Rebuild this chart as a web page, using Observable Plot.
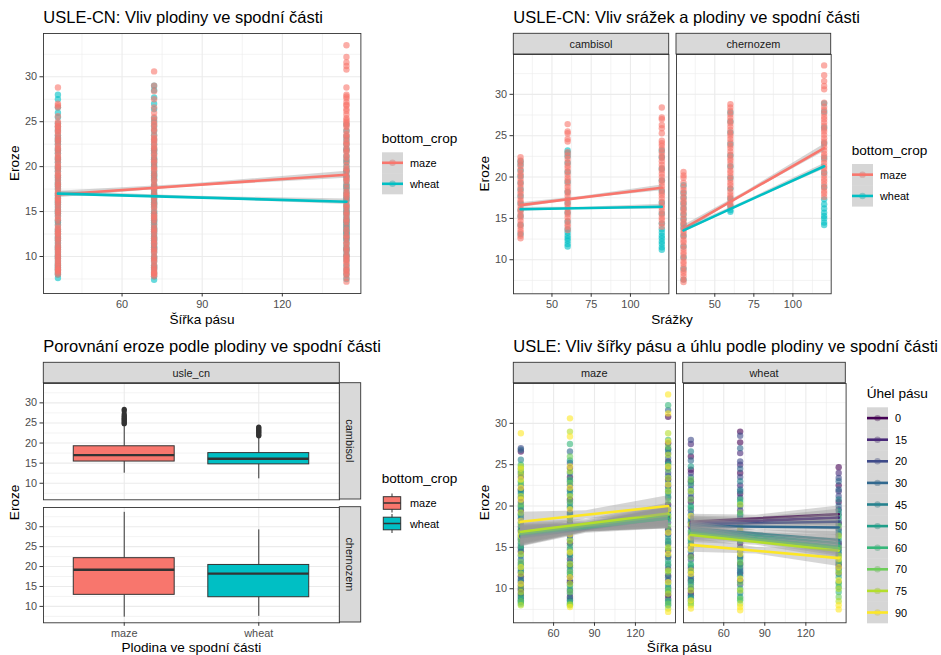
<!DOCTYPE html>
<html>
<head>
<meta charset="utf-8">
<script src="https://cdn.jsdelivr.net/npm/d3@7"></script>
<script src="https://cdn.jsdelivr.net/npm/@observablehq/plot@0.6"></script>
<style>
  html, body { margin: 0; padding: 0; background: #fff; }
  #page { position: relative; width: 941px; height: 655px; overflow: hidden; background: #fff; }
</style>
</head>
<body>
<div id="page"></div>
<script>
const FONT = '"Liberation Sans", Arial, Helvetica, sans-serif';

// ---- categories ----
const cropNames = ["maze", "wheat"];
const cropColors = ["#F8766D", "#00BFC4"];
const soilNames = ["cambisol", "chernozem"];
const angleLevels = [0, 15, 20, 30, 45, 50, 60, 70, 75, 90];
const angleColors = ["#440154", "#482878", "#3E4A89", "#31688E", "#26828E", "#1F9E89", "#35B779", "#6DCD59", "#B4DE2C", "#FDE725"];
const widthLevels = [36, 72, 144];
const rainLevels = [30, 60, 120];

// ---- axis ticks ----
const erozeDomain = [5.885, 34.815];
const erozeTicks = [10, 15, 20, 25, 30];
const erozeMinor = [7.5, 12.5, 17.5, 22.5, 27.5, 32.5];
const widthDomain = [30.6, 149.4];
const widthTicks = [60, 90, 120];
const widthMinor = [45, 75, 105, 135];
const rainDomain = [25.5, 124.5];
const rainTicks = [50, 75, 100];
const rainMinor = [37.5, 62.5, 87.5, 112.5];

// ---- erosion by strip width; one inner list per slope angle (angleLevels order) ----
const maze36 = [
  [9.4, 10.0, 11.5, 14.5, 17.0, 19.5, 22.0, 26.6],
  [9.0, 10.4, 12.0, 15.0, 17.5, 20.5, 23.5],
  [9.8, 11.0, 13.0, 16.0, 18.5, 21.0, 24.0, 27.0],
  [8.6, 10.8, 13.5, 15.5, 18.0, 20.0, 22.5, 26.8],
  [8.4, 11.2, 12.5, 14.0, 16.5, 19.0, 21.5, 25.6],
  [8.8, 12.2, 14.8, 16.2, 18.8, 21.8, 24.5],
  [8.2, 9.2, 12.8, 15.2, 17.2, 19.8, 23.0, 25.0],
  [8.5, 10.2, 13.2, 15.8, 17.8, 20.2, 22.8, 24.2],
  [8.0, 9.6, 11.8, 14.2, 16.8, 19.2, 21.2, 23.8, 24.8],
  [10.6, 12.6, 16.4, 18.2, 20.8, 22.2, 23.2, 24.5, 28.8]
];
const wheat36 = [
  [9.5, 11.0, 14.0, 17.5, 20.5, 23.0, 24.4, 26.0],
  [10.0, 12.5, 15.0, 18.0, 21.0, 24.0, 27.5],
  [9.2, 11.5, 13.5, 16.5, 19.5, 22.5, 28.0],
  [10.5, 12.0, 15.5, 18.5, 21.5, 23.5, 25.5],
  [8.8, 11.2, 14.5, 17.0, 19.0, 22.0, 26.6],
  [9.0, 12.8, 16.0, 18.2, 20.0, 24.8],
  [8.5, 10.8, 13.0, 15.8, 19.8, 22.8],
  [8.2, 10.2, 13.8, 16.8, 20.8, 23.2],
  [8.0, 9.8, 12.2, 15.2, 17.8, 21.8],
  [7.6, 8.6, 11.8, 14.8, 16.2, 18.8]
];
const maze72 = [
  [9.0, 10.8, 12.8, 15.5, 18.0, 20.8, 23.5],
  [9.8, 11.5, 13.6, 16.4, 19.2, 22.0, 24.6],
  [8.6, 11.0, 14.2, 17.0, 19.8, 22.5, 25.2],
  [9.4, 12.2, 14.8, 17.6, 20.4, 23.0, 26.6],
  [8.8, 10.4, 13.2, 16.0, 18.6, 21.4, 24.0],
  [8.2, 11.8, 14.0, 16.8, 19.0, 21.8, 25.5],
  [8.4, 10.0, 12.6, 15.2, 17.8, 20.0, 23.2, 27.5],
  [8.0, 9.6, 12.0, 14.6, 17.4, 20.6, 22.8, 26.0],
  [8.1, 10.6, 13.0, 15.8, 18.4, 21.2, 24.2, 29.0],
  [7.8, 11.4, 14.4, 16.6, 19.6, 22.2, 24.8, 28.4, 30.6]
];
const wheat72 = [
  [11.0, 13.0, 15.5, 18.5, 21.5, 24.0, 27.7, 29.0],
  [11.8, 13.8, 16.5, 19.5, 22.5, 25.0, 26.4],
  [10.5, 12.5, 15.0, 18.0, 21.0, 23.5, 25.4, 28.5],
  [12.0, 14.5, 17.0, 20.0, 22.0, 24.5, 27.0],
  [9.5, 12.2, 14.0, 16.8, 19.0, 21.8, 23.0],
  [9.0, 11.5, 13.5, 16.0, 18.8, 20.5],
  [8.6, 10.0, 12.8, 15.8, 17.5, 20.8],
  [8.8, 10.8, 13.2, 16.2, 19.2],
  [8.2, 9.8, 14.8, 17.8, 20.2],
  [7.4, 7.8, 11.2, 14.2, 17.2]
];
const maze144 = [
  [9.2, 11.6, 14.6, 17.2, 20.2, 23.2, 25.4, 27.6, 30.8],
  [8.8, 11.0, 13.8, 16.6, 19.4, 22.4, 24.6, 26.9],
  [9.6, 12.4, 15.4, 18.0, 21.0, 24.0, 26.4],
  [10.2, 12.8, 15.8, 18.6, 21.6, 23.6, 25.8, 31.6],
  [8.4, 11.4, 14.0, 17.0, 19.8, 22.8, 25.2],
  [8.0, 10.6, 13.4, 16.2, 19.0, 22.0, 26.8],
  [8.6, 10.0, 13.0, 15.6, 18.4, 21.2, 25.0, 28.0, 32.2],
  [8.2, 9.8, 12.0, 14.8, 17.6, 20.6, 24.4, 27.2],
  [7.6, 9.4, 12.2, 15.0, 18.8, 21.8, 23.4, 26.2, 28.8],
  [7.2, 10.8, 14.2, 16.8, 19.6, 22.6, 24.8, 27.8, 31.2, 33.5]
];
const wheat144 = [
  [13.0, 15.5, 18.0, 20.5, 22.5, 24.7],
  [12.5, 14.8, 17.2, 19.6, 21.8, 24.0],
  [11.8, 14.2, 16.6, 19.0, 21.2, 23.4],
  [12.8, 15.2, 17.8, 20.0, 22.0, 23.0],
  [10.8, 13.4, 15.8, 18.4, 20.8],
  [10.2, 12.2, 14.5, 16.9, 19.4],
  [9.6, 11.4, 13.8, 16.2, 18.8],
  [9.0, 10.6, 13.2, 15.0, 17.6],
  [8.5, 10.0, 12.0, 14.0, 16.4],
  [7.5, 8.0, 11.0, 12.6, 13.6]
];

// ---- erosion by rainfall, per soil and crop ----
const cambMaze30 = [12.6, 12.9, 13.3, 13.6, 14.0, 14.3, 14.7, 15.1, 15.4, 15.8, 16.1, 16.5, 16.9, 17.2, 17.6, 18.0, 18.3, 18.7, 19.1, 19.4, 19.8, 20.2, 20.5, 20.9, 21.3, 21.7, 22.0, 22.4];
const cambWheat30 = [13.1, 14.2, 15.3, 16.0, 16.8, 17.7, 18.5, 19.3, 20.1, 20.8, 21.5, 21.9];
const cambMaze60 = [13.6, 14.0, 14.3, 14.7, 15.1, 15.5, 15.8, 16.2, 16.6, 16.9, 17.3, 17.7, 18.1, 18.4, 18.8, 19.2, 19.6, 19.9, 20.3, 20.7, 21.1, 21.4, 21.8, 22.2, 22.6, 23.0, 24.3, 24.6, 25.3, 25.5, 26.4];
const cambWheat60 = [11.6, 11.9, 12.3, 12.6, 12.9, 13.3, 13.7, 14.6, 15.7, 16.9, 18.2, 19.4, 20.6, 21.7, 22.5, 22.9, 23.2];
const cambMaze120 = [14.0, 14.4, 14.8, 15.1, 15.5, 15.9, 16.3, 16.6, 17.0, 17.4, 17.8, 18.1, 18.5, 18.9, 19.3, 19.6, 20.0, 20.4, 20.8, 21.1, 21.5, 21.9, 22.3, 22.6, 23.0, 23.4, 23.8, 24.1, 24.4, 25.3, 25.9, 26.3, 27.0, 27.2, 28.4];
const cambWheat120 = [11.2, 11.5, 11.9, 12.2, 12.6, 12.9, 13.3, 13.7, 14.4, 15.6, 16.9, 18.3, 19.6, 21.0, 22.4, 23.2];
const cherMaze30 = [7.3, 7.6, 8.0, 8.4, 8.7, 9.1, 9.5, 9.8, 10.2, 10.6, 10.9, 11.3, 11.7, 12.1, 12.4, 12.8, 13.2, 13.5, 13.9, 14.3, 14.6, 15.0, 15.4, 15.8, 16.1, 16.5, 16.9, 17.2, 17.6, 18.0, 18.4, 18.8, 19.3, 19.9, 20.2, 20.6];
const cherWheat30 = [7.6, 8.9, 10.3, 11.6, 12.9, 13.8, 14.3, 14.9, 15.5, 16.2, 16.8, 17.5, 18.1, 19.0];
const cherMaze60 = [16.4, 16.7, 17.1, 17.5, 17.8, 18.2, 18.6, 19.0, 19.3, 19.7, 20.1, 20.5, 20.8, 21.2, 21.6, 22.0, 22.3, 22.7, 23.1, 23.5, 23.8, 24.2, 24.6, 25.0, 25.3, 25.7, 26.1, 26.5, 26.8, 27.2, 27.6, 28.0, 28.4, 28.8];
const cherWheat60 = [15.8, 16.0, 16.5, 17.4, 18.6, 19.9, 21.3, 22.6, 24.0, 25.4, 26.7, 27.8];
const cherMaze120 = [17.6, 18.0, 18.3, 18.7, 19.1, 19.5, 19.8, 20.2, 20.6, 21.0, 21.3, 21.7, 22.1, 22.5, 22.8, 23.2, 23.6, 24.0, 24.3, 24.7, 25.1, 25.5, 25.8, 26.2, 26.6, 27.0, 27.3, 27.7, 28.1, 28.5, 29.0, 30.6, 31.0, 31.6, 32.3, 33.5];
const cherWheat120 = [14.2, 14.5, 15.0, 15.3, 15.7, 16.2, 16.7, 17.3, 18.8, 20.5, 22.3, 24.1, 26.0, 27.9, 28.9];

// ---- boxplot statistics (cambisol maze, cambisol wheat, chernozem maze, chernozem wheat) ----
const boxSoil = ["cambisol", "cambisol", "chernozem", "chernozem"];
const boxCrop = ["maze", "wheat", "maze", "wheat"];
const boxLower = [12.5, 11.1, 7.3, 7.5];
const boxQ1 = [15.4, 14.7, 12.9, 12.3];
const boxMedian = [17.0, 16.1, 19.2, 18.2];
const boxQ3 = [19.2, 17.5, 22.1, 20.4];
const boxUpper = [24.5, 21.6, 33.6, 29.2];
const outliersCambMaze = [24.8, 25.0, 25.3, 25.6, 25.9, 26.2, 26.5, 26.8, 27.2, 28.0, 28.4];
const outliersCambWheat = [21.8, 22.0, 22.3, 22.6, 22.9, 23.2, 23.5, 23.8, 24.0];

// ---- linear smooths: fitted values at the ends of the x range, band half-widths at start / mean x / end ----
const fitWidthMaze = [16.9, 19.1];
const fitWidthWheat = [17.0, 16.1];
const seWidthMaze = [0.35, 0.15, 0.4];
const seWidthWheat = [0.25, 0.12, 0.3];
const fitRainCambMaze = [16.6, 18.7];
const fitRainCambWheat = [16.1, 16.4];
const fitRainCherMaze = [13.75, 23.5];
const fitRainCherWheat = [13.55, 21.3];
const seRainCambMaze = [0.3, 0.15, 0.35];
const seRainCambWheat = [0.25, 0.12, 0.3];
const seRainCherMaze = [0.4, 0.18, 0.45];
const seRainCherWheat = [0.3, 0.14, 0.35];
const fitAngleMaze36 = [16.3, 16.4, 16.2, 16.5, 16.3, 16.5, 16.6, 16.7, 16.9, 18.1];
const fitAngleMaze144 = [18.7, 18.6, 18.5, 18.8, 18.6, 18.5, 18.5, 18.9, 19.1, 20.0];
const fitAngleWheat36 = [18.1, 17.9, 17.8, 17.6, 17.3, 17.1, 16.9, 16.7, 16.5, 15.3];
const fitAngleWheat144 = [19.0, 18.6, 18.1, 17.4, 15.9, 15.5, 15.1, 14.9, 14.6, 13.7];
const seAngleMaze = [1.15, 0.5, 1.25];
const seAngleWheat = [0.9, 0.4, 1.0];

// ---- build tables ----
const widthSets = [
  {crop: "maze", width: 36, values: maze36}, {crop: "maze", width: 72, values: maze72}, {crop: "maze", width: 144, values: maze144},
  {crop: "wheat", width: 36, values: wheat36}, {crop: "wheat", width: 72, values: wheat72}, {crop: "wheat", width: 144, values: wheat144}
];
const widthRows = widthSets.flatMap(s => s.values.flatMap((vals, i) =>
  vals.map(v => ({crop: s.crop, width: s.width, angle: angleLevels[i], eroze: v}))));

const rainSets = [
  {soil: "cambisol", crop: "wheat", rain: 30, values: cambWheat30},
  {soil: "cambisol", crop: "wheat", rain: 60, values: cambWheat60},
  {soil: "cambisol", crop: "wheat", rain: 120, values: cambWheat120},
  {soil: "cambisol", crop: "maze", rain: 30, values: cambMaze30},
  {soil: "cambisol", crop: "maze", rain: 60, values: cambMaze60},
  {soil: "cambisol", crop: "maze", rain: 120, values: cambMaze120},
  {soil: "chernozem", crop: "wheat", rain: 30, values: cherWheat30},
  {soil: "chernozem", crop: "wheat", rain: 60, values: cherWheat60},
  {soil: "chernozem", crop: "wheat", rain: 120, values: cherWheat120},
  {soil: "chernozem", crop: "maze", rain: 30, values: cherMaze30},
  {soil: "chernozem", crop: "maze", rain: 60, values: cherMaze60},
  {soil: "chernozem", crop: "maze", rain: 120, values: cherMaze120}
];
const rainRows = rainSets.flatMap(s => s.values.map(v => ({soil: s.soil, crop: s.crop, rain: s.rain, eroze: v})));

const boxRows = boxSoil.map((soil, i) => ({
  soil, crop: boxCrop[i], pos: cropNames.indexOf(boxCrop[i]) + 1,
  lower: boxLower[i], q1: boxQ1[i], median: boxMedian[i], q3: boxQ3[i], upper: boxUpper[i]
}));
const outlierRows = [
  ...outliersCambMaze.map(v => ({soil: "cambisol", crop: "maze", pos: 1, eroze: v})),
  ...outliersCambWheat.map(v => ({soil: "cambisol", crop: "wheat", pos: 2, eroze: v}))
];

// smooth line + confidence band rows at x start, mean x and x end
function smoothRows(xs, xMean, fit, se) {
  const [xa, xb] = xs, [ya, yb] = fit;
  const ym = ya + (yb - ya) * (xMean - xa) / (xb - xa);
  return [[xa, ya, se[0]], [xMean, ym, se[1]], [xb, yb, se[2]]]
    .map(([x, y, s]) => ({x, y, lo: y - s, hi: y + s}));
}
const widthMean = d3.mean(widthLevels);
const rainMean = d3.mean(rainLevels);
const widthEnds = [widthLevels[0], widthLevels[2]];
const rainEnds = [rainLevels[0], rainLevels[2]];

function smoothMarks(rows, color) {
  return [
    Plot.areaY(rows, {x: "x", y1: "lo", y2: "hi", fill: "#999999", fillOpacity: 0.4}),
    Plot.line(rows.filter((d, i) => i !== 1), {x: "x", y: "y", stroke: color, strokeWidth: 2.6})
  ];
}

// ---- layout helpers ----
const page = document.getElementById("page");

function addPanel(o) {
  const mL = o.yAxis ? 42 : 1, mR = 1, mT = 1, mB = o.xAxis ? 24 : 1;
  const w = o.x1 - o.x0, h = o.y1 - o.y0;
  const axisStyle = {tickSize: 3.5, tickPadding: 3, label: null, stroke: "#333333", fill: "#4D4D4D"};
  const marks = [
    o.xMinor ? Plot.ruleX(o.xMinor, {stroke: "#EBEBEB", strokeWidth: 0.6}) : null,
    Plot.ruleY(erozeMinor, {stroke: "#EBEBEB", strokeWidth: 0.6}),
    Plot.ruleX(o.xTicks, {stroke: "#EBEBEB", strokeWidth: 1.1}),
    Plot.ruleY(erozeTicks, {stroke: "#EBEBEB", strokeWidth: 1.1}),
    ...o.marks,
    Plot.frame({stroke: "#333333", strokeWidth: 0.9}),
    o.xAxis ? Plot.axisX(o.xTicks, o.xFormat ? {...axisStyle, tickFormat: o.xFormat} : axisStyle) : null,
    o.yAxis ? Plot.axisY(erozeTicks, axisStyle) : null
  ].filter(Boolean);
  const opts = {
    width: w + mL + mR, height: h + mT + mB,
    marginLeft: mL, marginRight: mR, marginTop: mT, marginBottom: mB,
    x: {type: "linear", domain: o.xDomain, axis: null},
    y: {type: "linear", domain: erozeDomain, axis: null},
    style: {fontFamily: FONT, fontSize: "10.9px", background: "transparent", overflow: "visible", maxWidth: "none"},
    marks
  };
  if (o.color) opts.color = o.color;
  const svg = Plot.plot(opts);
  svg.style.position = "absolute";
  svg.style.left = (o.x0 - mL) + "px";
  svg.style.top = (o.y0 - mT) + "px";
  page.appendChild(svg);
}

const cropScale = {domain: cropNames, range: cropColors};
const angleScale = {domain: angleLevels, range: angleColors};
const dotAlpha = 0.6;

// ---- panel 1: erosion vs strip width, coloured by crop ----
{
  const rows = widthRows.filter(d => d.crop === "wheat").concat(widthRows.filter(d => d.crop === "maze"));
  addPanel({
    x0: 43.3, x1: 360.7, y0: 33.3, y1: 293.3,
    xDomain: widthDomain, xTicks: widthTicks, xMinor: widthMinor,
    xAxis: true, yAxis: true, color: cropScale,
    marks: [
      Plot.dot(rows, {x: "width", y: "eroze", fill: "crop", fillOpacity: dotAlpha, r: 3.2}),
      ...smoothMarks(smoothRows(widthEnds, widthMean, fitWidthMaze, seWidthMaze), cropColors[0]),
      ...smoothMarks(smoothRows(widthEnds, widthMean, fitWidthWheat, seWidthWheat), cropColors[1])
    ]
  });
}

// ---- panel 2: erosion vs rainfall, faceted by soil ----
{
  const facets = [
    {soil: "cambisol", x0: 513.3, x1: 668.7, fits: [fitRainCambMaze, fitRainCambWheat], ses: [seRainCambMaze, seRainCambWheat]},
    {soil: "chernozem", x0: 676, x1: 830.7, fits: [fitRainCherMaze, fitRainCherWheat], ses: [seRainCherMaze, seRainCherWheat]}
  ];
  facets.forEach((f, k) => {
    addPanel({
      x0: f.x0, x1: f.x1, y0: 54, y1: 293.3,
      xDomain: rainDomain, xTicks: rainTicks, xMinor: rainMinor,
      xAxis: true, yAxis: k === 0, color: cropScale,
      marks: [
        Plot.dot(rainRows.filter(d => d.soil === f.soil), {x: "rain", y: "eroze", fill: "crop", fillOpacity: dotAlpha, r: 3.2}),
        ...smoothMarks(smoothRows(rainEnds, rainMean, f.fits[0], f.ses[0]), cropColors[0]),
        ...smoothMarks(smoothRows(rainEnds, rainMean, f.fits[1], f.ses[1]), cropColors[1])
      ]
    });
  });
}

// ---- panel 3: boxplots by crop, faceted by soil ----
{
  const facets = [{soil: "cambisol", y0: 382.7, y1: 499}, {soil: "chernozem", y0: 506.7, y1: 622}];
  facets.forEach((f, k) => {
    const rows = boxRows.filter(d => d.soil === f.soil);
    addPanel({
      x0: 43.3, x1: 339.3, y0: f.y0, y1: f.y1,
      xDomain: [0.4, 2.6], xTicks: [1, 2], xFormat: d => cropNames[d - 1],
      xAxis: k === 1, yAxis: true, color: cropScale,
      marks: [
        Plot.ruleX(rows, {x: "pos", y1: "lower", y2: "q1", stroke: "#333333", strokeWidth: 1}),
        Plot.ruleX(rows, {x: "pos", y1: "q3", y2: "upper", stroke: "#333333", strokeWidth: 1}),
        Plot.rect(rows, {x1: d => d.pos - 0.375, x2: d => d.pos + 0.375, y1: "q1", y2: "q3", fill: "crop", stroke: "#333333", strokeWidth: 1}),
        Plot.ruleY(rows, {y: "median", x1: d => d.pos - 0.375, x2: d => d.pos + 0.375, stroke: "#333333", strokeWidth: 2.3}),
        Plot.dot(outlierRows.filter(d => d.soil === f.soil), {x: "pos", y: "eroze", r: 2.6, fill: "#333333"})
      ]
    });
  });
}

// ---- panel 4: erosion vs strip width by slope angle, faceted by crop ----
{
  const facets = [
    {crop: "maze", x0: 513.3, x1: 675.3, f36: fitAngleMaze36, f144: fitAngleMaze144, se: seAngleMaze},
    {crop: "wheat", x0: 682.7, x1: 845.3, f36: fitAngleWheat36, f144: fitAngleWheat144, se: seAngleWheat}
  ];
  facets.forEach((f, k) => {
    const smooths = angleLevels.flatMap((a, i) =>
      smoothMarks(smoothRows(widthEnds, widthMean, [f.f36[i], f.f144[i]], f.se), angleColors[i]));
    addPanel({
      x0: f.x0, x1: f.x1, y0: 382.7, y1: 622,
      xDomain: widthDomain, xTicks: widthTicks, xMinor: widthMinor,
      xAxis: true, yAxis: k === 0, color: angleScale,
      marks: [
        Plot.dot(widthRows.filter(d => d.crop === f.crop), {x: "width", y: "eroze", fill: "angle", fillOpacity: dotAlpha, r: 3.2}),
        ...smooths
      ]
    });
  });
}

// ---- titles, axis titles, strips and legends ----
const ov = d3.select(page).append("svg")
  .attr("width", 941).attr("height", 655)
  .style("position", "absolute").style("left", "0px").style("top", "0px")
  .attr("font-family", FONT);

function label(x, y, s, size, o = {}) {
  const t = ov.append("text").attr("x", x).attr("y", y)
    .attr("font-size", size).attr("fill", o.fill || "#000000")
    .attr("text-anchor", o.anchor || "start").text(s);
  if (o.baseline) t.attr("dominant-baseline", o.baseline);
  if (o.rotate) t.attr("transform", `rotate(${o.rotate} ${x} ${y})`);
  return t;
}

// plot titles
label(43.3, 23, "USLE-CN: Vliv plodiny ve spodní části", 16.5);
label(513.3, 23, "USLE-CN: Vliv srážek a plodiny ve spodní části", 16.5);
label(43.3, 352, "Porovnání eroze podle plodiny ve spodní části", 16.5);
label(513.3, 352, "USLE: Vliv šířky pásu a úhlu podle plodiny ve spodní části", 16.5);

// axis titles
[[19, 163.3], [489, 173.7], [19, 502.4], [489, 502.4]].forEach(([x, y]) =>
  label(x, y, "Eroze", 13.6, {anchor: "middle", rotate: -90}));
label(202, 323.5, "Šířka pásu", 13.6, {anchor: "middle"});
label(672, 323.5, "Srážky", 13.6, {anchor: "middle"});
label(191.3, 652, "Plodina ve spodní části", 13.6, {anchor: "middle"});
label(679.3, 652, "Šířka pásu", 13.6, {anchor: "middle"});

// facet strips
function strip(x0, y0, x1, y1, s, vertical) {
  ov.append("rect").attr("x", x0).attr("y", y0).attr("width", x1 - x0).attr("height", y1 - y0)
    .attr("fill", "#D9D9D9").attr("stroke", "#333333").attr("stroke-width", 0.9);
  const cx = (x0 + x1) / 2, cy = (y0 + y1) / 2;
  label(cx, cy, s, 10.9, {anchor: "middle", baseline: "central", fill: "#1A1A1A", rotate: vertical ? 90 : 0});
}
strip(513.3, 33.3, 668.7, 54, soilNames[0]);
strip(676, 33.3, 830.7, 54, soilNames[1]);
strip(43.3, 362.3, 339.3, 382.7, "usle_cn");
strip(339.3, 382.7, 360.7, 499, soilNames[0], true);
strip(339.3, 506.7, 360.7, 622, soilNames[1], true);
strip(513.3, 362.3, 675.3, 382.7, cropNames[0]);
strip(682.7, 362.3, 845.3, 382.7, cropNames[1]);

// legend with point + smooth keys
function smoothLegend(x, y, title, names, colors, keyH) {
  label(x, y, title, 13.6);
  const kx = x + 0.3, ky = y + 9, kw = 21;
  names.forEach((n, i) => {
    const cy = ky + keyH * i + keyH / 2;
    ov.append("circle").attr("cx", kx + kw / 2).attr("cy", cy).attr("r", 3.2)
      .attr("fill", colors[i]).attr("fill-opacity", 0.5);
    ov.append("rect").attr("x", kx).attr("y", ky + keyH * i).attr("width", kw).attr("height", keyH)
      .attr("fill", "#999999").attr("fill-opacity", 0.4);
    ov.append("line").attr("x1", kx).attr("x2", kx + kw).attr("y1", cy).attr("y2", cy)
      .attr("stroke", colors[i]).attr("stroke-width", 2.6);
    label(kx + 28, cy, String(n), 10.9, {baseline: "central", fill: "#000000"});
  });
}
smoothLegend(381.7, 143.3, "bottom_crop", cropNames, cropColors, 21);
smoothLegend(851.7, 155, "bottom_crop", cropNames, cropColors, 21.3);
smoothLegend(866.7, 398.3, "Úhel pásu", angleLevels, angleColors, 21.6);

// boxplot legend
{
  const x = 381.7, y = 483.3;
  label(x, y, "bottom_crop", 13.6);
  cropNames.forEach((n, i) => {
    const cy = 503 + i * 20.5, kx = 383.3, kw = 17.4;
    ov.append("line").attr("x1", kx + kw / 2).attr("x2", kx + kw / 2).attr("y1", cy - 9.5).attr("y2", cy + 9.5)
      .attr("stroke", "#333333").attr("stroke-width", 1);
    ov.append("rect").attr("x", kx).attr("y", cy - 6.3).attr("width", kw).attr("height", 12.6)
      .attr("fill", cropColors[i]).attr("stroke", "#333333").attr("stroke-width", 1);
    ov.append("line").attr("x1", kx).attr("x2", kx + kw).attr("y1", cy).attr("y2", cy)
      .attr("stroke", "#333333").attr("stroke-width", 1.5);
    label(410, cy, n, 10.9, {baseline: "central"});
  });
}
</script>
</body>
</html>
